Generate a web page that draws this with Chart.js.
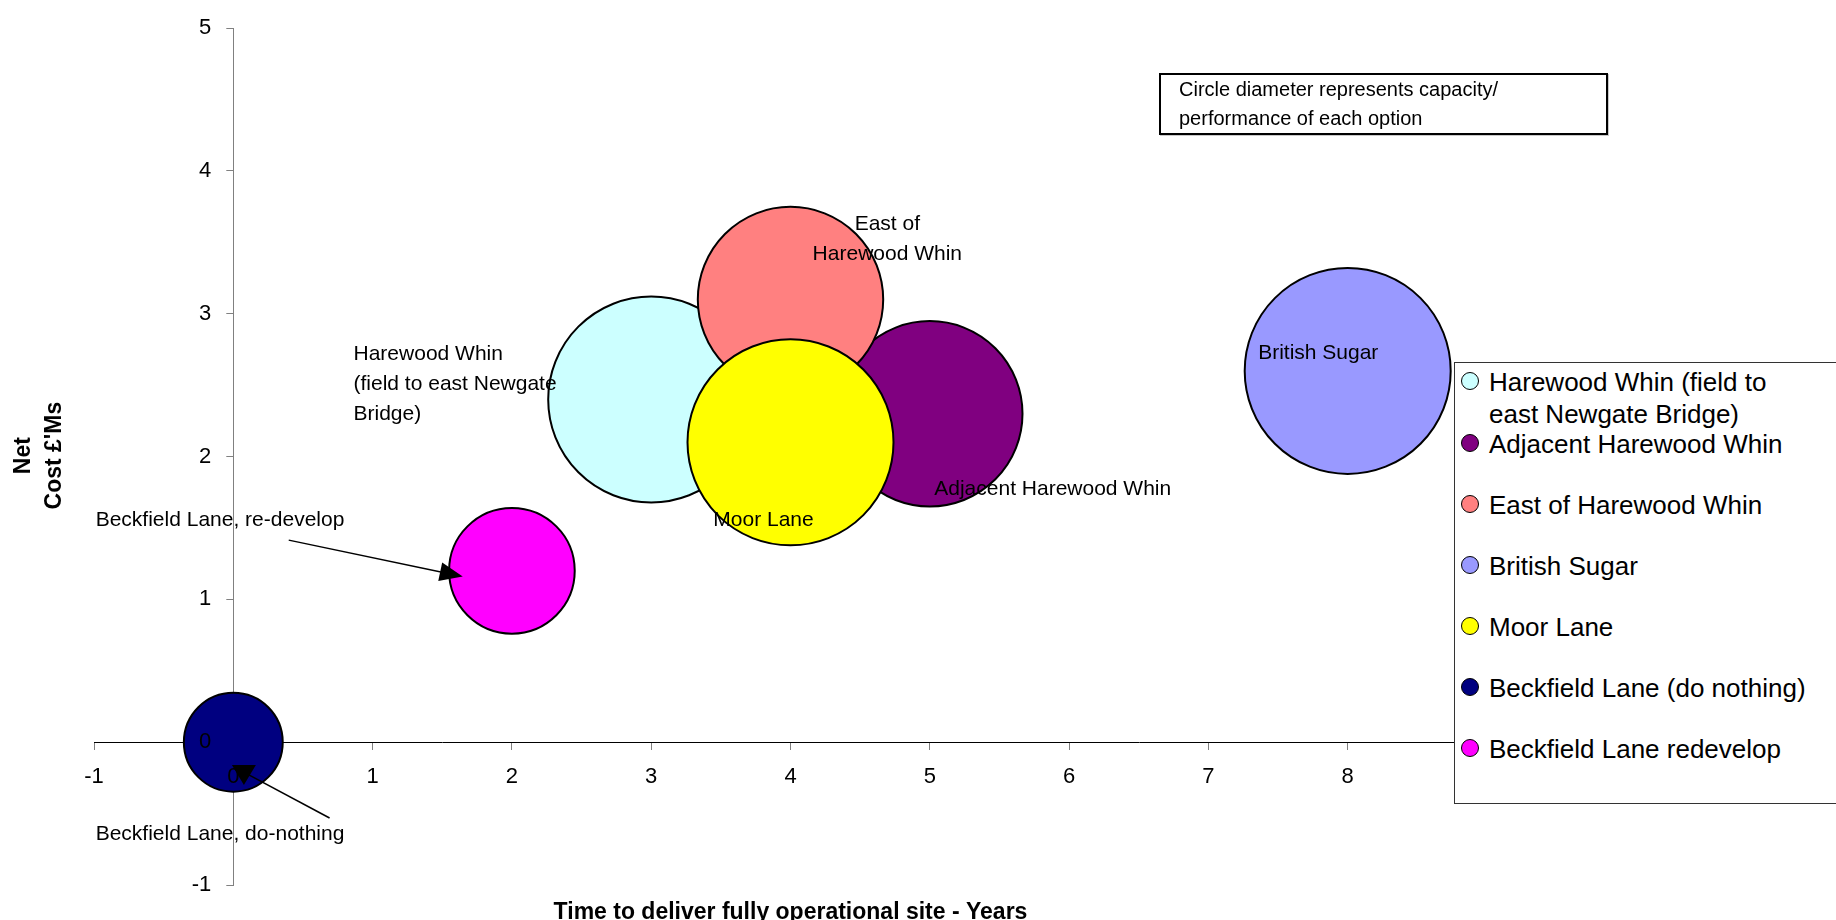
<!DOCTYPE html>
<html>
<head>
<meta charset="utf-8">
<title>Options - time to deliver vs net cost</title>
<script src="https://cdn.jsdelivr.net/npm/chart.js@4.4.1/dist/chart.umd.min.js"></script>
<style>
    html, body { margin: 0; padding: 0; background: #fff; overflow: hidden; }
    #wrap { position: relative; width: 1836px; height: 920px; overflow: hidden; font-family: "Liberation Sans", Arial, sans-serif; }
    #chart { position: absolute; left: 0; top: 0; }
    #note {
        position: absolute; left: 1159px; top: 73px; width: 427px; height: 58px;
        border: 2px solid #000; padding-left: 18px; background: #fff;
        font-size: 20px; line-height: 29px; color: #000;
        box-shadow: 1px 1px 0 #c8c8c8;
    }
    #legend {
        position: absolute; left: 1454px; top: 362px; width: 480px; height: 442px;
        border: 1px solid #333; background: #fff; padding-top: 3px; box-sizing: border-box;
        font-size: 26px; color: #000;
    }
    .legend-item { position: relative; padding-left: 34px; line-height: 34px; white-space: nowrap; margin-top: 27px; }
    .legend-item:first-child { margin-top: 0; }
    .legend-item:nth-child(2) { margin-top: -3px; }
    .legend-item.wrap { white-space: normal; width: 320px; line-height: 32px; }
    .legend-item.wrap .legend-dot { top: 6px; }
    .legend-dot {
        position: absolute; left: 6px; top: 7px; width: 16px; height: 16px;
        border: 1.5px solid #000; border-radius: 50%;
    }
</style>
</head>
<body>
<div id="wrap">
    <canvas id="chart" width="1836" height="920"></canvas>
    <div id="note">Circle diameter represents capacity/<br>performance of each option</div>
    <div id="legend"></div>
</div>
<script>
// series, in the order Excel drew them
const seriesNames = [
    'Harewood Whin (field to east Newgate Bridge)',
    'Adjacent Harewood Whin',
    'East of Harewood Whin',
    'British Sugar',
    'Moor Lane',
    'Beckfield Lane (do nothing)',
    'Beckfield Lane redevelop'
];
const yearsToDeliver = [3, 5, 4, 8, 4, 0, 2];
const netCostMillions = [2.4, 2.3, 3.1, 2.6, 2.1, 0, 1.2];
const capacity = [100, 90, 90, 100, 100, 48, 61];
const seriesColours = ['#CCFFFF', '#800080', '#FF8080', '#9999FF', '#FFFF00', '#000080', '#FF00FF'];

const xTickValues = [-1, 0, 1, 2, 3, 4, 5, 6, 7, 8, 9];
const yTickValues = [-1, 0, 1, 2, 3, 4, 5];

const xTitle = 'Time to deliver fully operational site - Years';
const yTitleLines = ['Net', 'Cost \u00a3\'Ms'];

// text placed on the plot (positions in axis units)
const pointLabels = [
    { lines: ['Harewood Whin', '(field to east Newgate', 'Bridge)'], x: 0.863, y: 2.72, align: 'left' },
    { lines: ['East of', 'Harewood Whin'], x: 4.695, y: 3.628, align: 'center' },
    { lines: ['Adjacent Harewood Whin'], x: 5.032, y: 1.775, align: 'left' },
    { lines: ['Moor Lane'], x: 3.446, y: 1.552, align: 'left' },
    { lines: ['British Sugar'], x: 7.357, y: 2.723, align: 'left' },
    { lines: ['Beckfield Lane, re-develop'], x: -0.988, y: 1.552, align: 'left' },
    { lines: ['Beckfield Lane, do-nothing'], x: -0.988, y: -0.645, align: 'left' }
];
// arrow callouts: line from -> to, head tip and direction (degrees, screen)
const callouts = [
    { from: [0.398, 1.415], to: [1.55, 1.18], tip: [1.647, 1.160], angle: 11.9, length: 23, half: 9.5 },
    { from: [0.691, -0.531], to: [0.088, -0.216], tip: [0.076, -0.299], angle: 90, length: 20, half: 12 }
];

const RADIUS_PER_UNIT = 1.03;
const FONT = '"Liberation Sans", Arial, sans-serif';
Chart.defaults.font.family = FONT;
Chart.defaults.color = '#000';

const datasets = seriesNames.map((name, i) => ({
    label: name,
    data: [{ x: yearsToDeliver[i], y: netCostMillions[i], r: capacity[i] * RADIUS_PER_UNIT }],
    backgroundColor: seriesColours[i],
    borderColor: '#000',
    borderWidth: 2,
    hoverBorderWidth: 2,
    order: seriesNames.length - i,
    clip: false
}));

// y axis crosses at x = 0: move it there once the layout is done
// (left is kept wide enough so the tick labels are not clipped)
const crossAxisPlugin = {
    id: 'crossAxis',
    afterLayout(chart) {
        const yAxis = chart.scales.y;
        const xZero = chart.scales.x.getPixelForValue(0);
        yAxis.left = xZero - 80;
        yAxis.right = xZero;
    }
};

const annotationPlugin = {
    id: 'annotations',
    afterDraw(chart) {
        const ctx = chart.ctx;
        const area = chart.chartArea;
        const sx = chart.scales.x;
        const sy = chart.scales.y;
        ctx.save();
        ctx.fillStyle = '#000';
        ctx.strokeStyle = '#000';

        ctx.font = '21px ' + FONT;
        ctx.textBaseline = 'middle';
        pointLabels.forEach(lbl => {
            const lx = sx.getPixelForValue(lbl.x);
            const ly = sy.getPixelForValue(lbl.y);
            ctx.textAlign = lbl.align;
            lbl.lines.forEach((line, i) => ctx.fillText(line, lx, ly + i * 30));
        });

        callouts.forEach(c => {
            ctx.lineWidth = 1.5;
            ctx.beginPath();
            ctx.moveTo(sx.getPixelForValue(c.from[0]), sy.getPixelForValue(c.from[1]));
            ctx.lineTo(sx.getPixelForValue(c.to[0]), sy.getPixelForValue(c.to[1]));
            ctx.stroke();
            const tx = sx.getPixelForValue(c.tip[0]);
            const ty = sy.getPixelForValue(c.tip[1]);
            const a = c.angle * Math.PI / 180;
            const bx = tx - Math.cos(a) * c.length;
            const by = ty - Math.sin(a) * c.length;
            ctx.beginPath();
            ctx.moveTo(tx, ty);
            ctx.lineTo(bx - Math.sin(a) * c.half, by + Math.cos(a) * c.half);
            ctx.lineTo(bx + Math.sin(a) * c.half, by - Math.cos(a) * c.half);
            ctx.closePath();
            ctx.fill();
        });

        ctx.font = 'bold 23px ' + FONT;
        ctx.textAlign = 'center';
        ctx.textBaseline = 'alphabetic';
        ctx.fillText(xTitle, (area.left + area.right) / 2, area.bottom + 34);

        ctx.translate(area.left - 54.5, (area.top + area.bottom) / 2 - 1);
        ctx.rotate(-Math.PI / 2);
        ctx.textBaseline = 'middle';
        yTitleLines.forEach((line, i) => ctx.fillText(line, 0, -15.5 + i * 31));
        ctx.restore();
    }
};

const tickFont = { size: 22, family: FONT };

const chart = new Chart(document.getElementById('chart'), {
    type: 'bubble',
    data: { datasets },
    options: {
        responsive: false,
        animation: false,
        events: [],
        layout: { autoPadding: false, padding: { left: 94, right: 349, top: 22, bottom: 35 } },
        plugins: {
            legend: { display: false },
            tooltip: { enabled: false }
        },
        scales: {
            x: {
                type: 'linear',
                position: { y: 0 },
                min: -1,
                max: 9,
                afterBuildTicks: (scale) => { scale.ticks = xTickValues.map(v => ({ value: v })); },
                afterFit: (scale) => { scale.height = 0; },
                ticks: { color: '#000', font: tickFont, padding: 15, z: 1, autoSkip: false },
                grid: { drawOnChartArea: false, drawTicks: true, tickLength: 7, tickColor: '#808080', tickWidth: 1 },
                border: { display: true, color: '#000', width: 1 }
            },
            y: {
                type: 'linear',
                position: 'left',
                min: -1,
                max: 5,
                afterBuildTicks: (scale) => { scale.ticks = yTickValues.map(v => ({ value: v })); },
                afterFit: (scale) => { scale.width = 0; },
                ticks: { color: '#000', font: tickFont, padding: 15, z: 1, autoSkip: false },
                grid: { drawOnChartArea: false, drawTicks: true, tickLength: 7, tickColor: '#808080', tickWidth: 1 },
                border: { display: true, color: '#808080', width: 1 }
            }
        }
    },
    plugins: [crossAxisPlugin, annotationPlugin]
});

// legend box, built from the same series
const legendBox = document.getElementById('legend');
seriesNames.forEach((name, i) => {
    const item = document.createElement('div');
    item.className = 'legend-item' + (name.length > 30 ? ' wrap' : '');
    const dot = document.createElement('span');
    dot.className = 'legend-dot';
    dot.style.background = seriesColours[i];
    item.appendChild(dot);
    item.appendChild(document.createTextNode(name));
    legendBox.appendChild(item);
});
</script>
</body>
</html>
